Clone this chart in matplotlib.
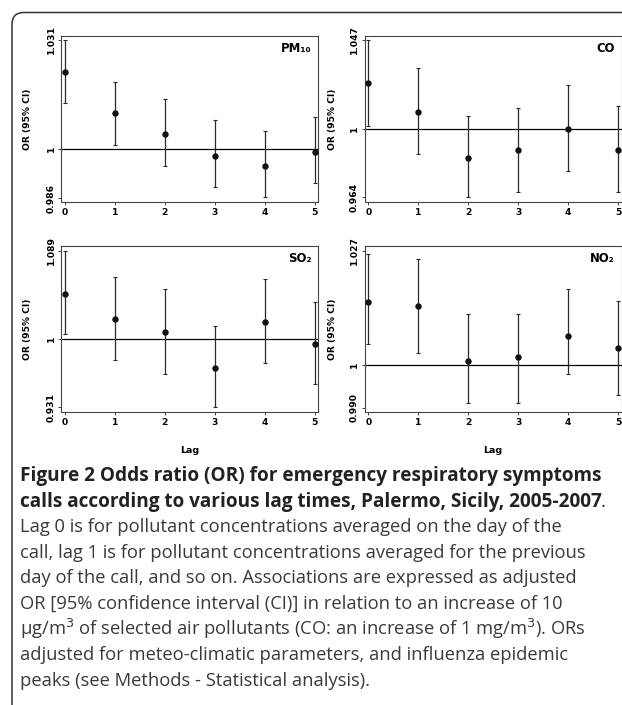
import matplotlib
matplotlib.use("Agg")
import matplotlib.pyplot as plt
from matplotlib.patches import FancyBboxPatch
from matplotlib.transforms import IdentityTransform
import numpy as np

# Odds ratios (OR) with 95% CI, lag 0..5
lags = [0, 1, 2, 3, 4, 5]

pm10_or = [1.022, 1.0102, 1.0041, 0.9981, 0.9952, 0.9991]
pm10_lo = [1.013, 1.0011, 0.9952, 0.9893, 0.9863, 0.9903]
pm10_hi = [1.031, 1.019, 1.0141, 1.0082, 1.005, 1.009]

co_or = [1.0241, 1.0088, 0.9849, 0.9887, 1.0, 0.9887]
co_lo = [1.0017, 0.987, 0.964, 0.9669, 0.9778, 0.9667]
co_hi = [1.047, 1.032, 1.0069, 1.0109, 1.0231, 1.012]

so2_or = [1.0457, 1.0198, 1.0067, 0.9708, 1.0168, 0.9946]
so2_lo = [1.0047, 0.9788, 0.9647, 0.9308, 0.9758, 0.9546]
so2_hi = [1.089, 1.0628, 1.0501, 1.0128, 1.0601, 1.037]

no2_or = [1.015, 1.014, 1.0009, 1.002, 1.007, 1.004]
no2_lo = [1.005, 1.003, 0.9911, 0.9911, 0.998, 0.993]
no2_hi = [1.0261, 1.025, 1.012, 1.012, 1.018, 1.0151]

panel_names = ["PM\u2081\u2080", "CO", "SO\u2082", "NO\u2082"]
ytick_vals = [[0.986, 1, 1.031], [0.964, 1, 1.047], [0.931, 1, 1.089], [0.990, 1, 1.027]]
ytick_text = [["0.986", "1", "1.031"], ["0.964", "1", "1.047"],
              ["0.931", "1", "1.089"], ["0.990", "1", "1.027"]]
ylims = [(0.9849, 1.0321), (0.9615, 1.0491), (0.926, 1.0938), (0.989, 1.0281)]

caption_bold = ["Figure 2 Odds ratio (OR) for emergency respiratory symptoms",
                "calls according to various lag times, Palermo, Sicily, 2005-2007"]
caption_text = [
    "Lag 0 is for pollutant concentrations averaged on the day of the",
    "call, lag 1 is for pollutant concentrations averaged for the previous",
    "day of the call, and so on. Associations are expressed as adjusted",
    "OR [95% confidence interval (CI)] in relation to an increase of 10",
    "\u00b5g/m$^3$ of selected air pollutants (CO: an increase of 1 mg/m$^3$). ORs",
    "adjusted for meteo-climatic parameters, and influenza epidemic",
    "peaks (see Methods - Statistical analysis).",
]

W, H = 622, 705
fig = plt.figure(figsize=(W / 100, H / 100), dpi=100)

# rounded frame around the figure (top and left edges visible)
frame = FancyBboxPatch((12, -60), 700, H - 12.5 + 60,
                       boxstyle="round,pad=0,rounding_size=12",
                       transform=IdentityTransform(), fill=False,
                       lw=1.1, ec="#333333")
fig.add_artist(frame)

# axes boxes in pixels: left, top, right, bottom
boxes = [(61, 36, 318, 202), (364.5, 36, 621.5, 202),
         (61, 246, 318, 412), (364.5, 246, 621.5, 412)]

data = [(pm10_or, pm10_lo, pm10_hi), (co_or, co_lo, co_hi),
        (so2_or, so2_lo, so2_hi), (no2_or, no2_lo, no2_hi)]

tick_font = dict(family="DejaVu Sans", weight="bold", size=6.6)

for i, (l, t, r, b) in enumerate(boxes):
    ax = fig.add_axes([l / W, (H - b) / H, (r - l) / W, (b - t) / H])
    orv, lo, hi = (np.array(v) for v in data[i])
    ax.axhline(1, color="black", lw=0.9, zorder=1)
    ax.errorbar(lags, orv, yerr=[orv - lo, hi - orv], fmt="o", color="#111111",
                ecolor="#2a2a2a", elinewidth=0.9, capsize=1.4, capthick=0.8,
                ms=3.6, zorder=3)
    ax.set_xlim(-0.08, 5.07)
    ax.set_ylim(*ylims[i])
    ax.set_xticks(lags)
    ax.set_xticklabels([str(x) for x in lags], **tick_font)
    ax.set_yticks(ytick_vals[i])
    ax.set_yticklabels(ytick_text[i], rotation=90, va="center", **tick_font)
    ax.tick_params(length=2.5, width=0.7, color="#444444", pad=1.5)
    for s in ax.spines.values():
        s.set_color("#444444")
        s.set_linewidth(0.8)
    ax.set_ylabel("OR (95% CI)", **tick_font)
    ax.yaxis.set_label_coords(-(l - (32 if i % 2 == 0 else 337)) / (r - l), 0.5)
    if i >= 2:
        ax.set_xlabel("Lag", family="DejaVu Sans", weight="bold", size=6.8)
        ax.xaxis.set_label_coords(0.5, -(446 - b) / (b - t))
    ax.text(1 - 6.5 / (r - l), 1 - 6 / (b - t), panel_names[i], transform=ax.transAxes,
            ha="right", va="top", family="DejaVu Sans", weight="bold", size=8.4)

# caption
y0 = 481
step = 25.6
bold_txt = []
for k, line in enumerate(caption_bold):
    bold_txt.append(fig.text(20 / W, (H - (y0 + k * step)) / H, line, ha="left",
                             va="baseline", family="Open Sans", weight="bold",
                             size=13.7, color="#222222"))
renderer = fig.canvas.get_renderer()
x_end = bold_txt[1].get_window_extent(renderer).x1
fig.text((x_end - 1) / W, (H - (y0 + step)) / H, ".", ha="left", va="baseline",
         family="Open Sans", size=13.2, color="#222222")
for k, line in enumerate(caption_text):
    fig.text(20 / W, (H - (y0 + (k + 2) * step)) / H, line, ha="left", va="baseline",
             family="Open Sans", size=13.2, color="#3a3a3a")

fig.savefig("out.png", dpi=100)
